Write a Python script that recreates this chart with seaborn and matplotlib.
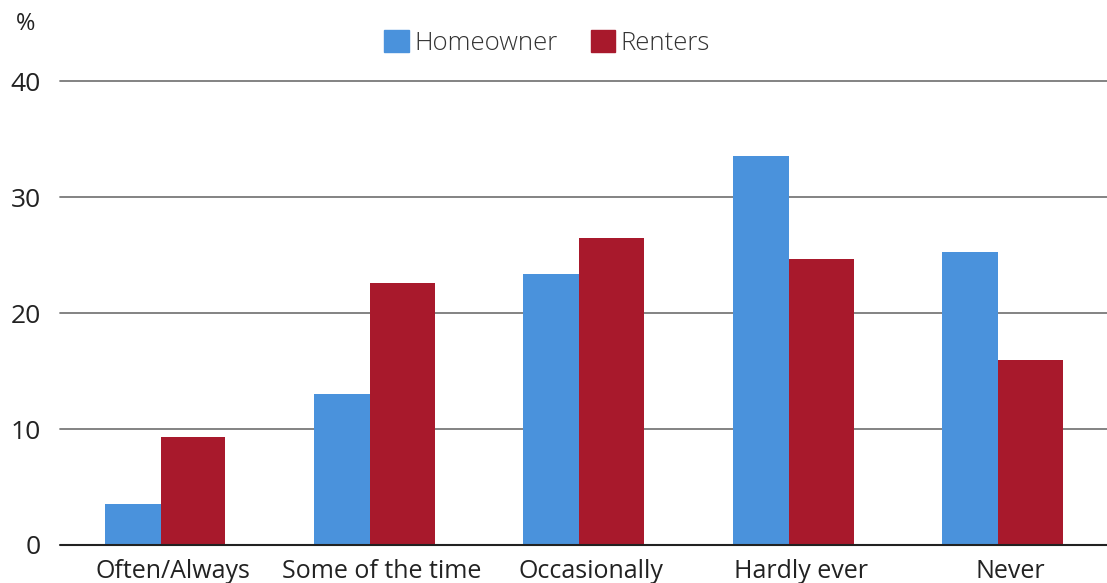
import pandas as pd
import seaborn as sns
import matplotlib.pyplot as plt
import matplotlib.transforms as mtransforms
plt.switch_backend('Agg')

categories = ["Often/Always", "Some of the time", "Occasionally", "Hardly ever", "Never"]
homeowner = [3.5, 13.0, 23.4, 33.6, 25.3]
renters = [9.3, 22.6, 26.5, 24.7, 16.0]
series = ["Homeowner", "Renters"]
colors = {"Homeowner": "#4a92dc", "Renters": "#a8192c"}

df = pd.DataFrame({
    "category": categories * 2,
    "value": homeowner + renters,
    "group": ["Homeowner"] * len(categories) + ["Renters"] * len(categories),
})

sns.set_style("white")
plt.rcParams['font.family'] = ['Open Sans', 'DejaVu Sans']

fig = plt.figure(figsize=(11.07, 5.83), dpi=100)
ax = fig.add_axes([60 / 1107, 38 / 583, 1 - 60 / 1107, (545 - 81.5) / 583])

sns.barplot(data=df, x="category", y="value", hue="group", order=categories,
            hue_order=series, palette=colors, width=0.6, saturation=1,
            legend=False, ax=ax)

# homeowner bar sits left of the category centre, renters bar (a bit wider) right of it
left_w, right_w = 0.267, 0.31
for i, p in enumerate(ax.patches[:2 * len(categories)]):
    cat = i % len(categories)
    if i < len(categories):
        p.set_x(cat - left_w)
        p.set_width(left_w)
    else:
        p.set_x(cat)
        p.set_width(right_w)
    p.set_edgecolor("none")

ax.set_xlim(-0.48, 4.52)
ax.set_ylim(0, 40)
ax.set_yticks([0, 10, 20, 30, 40])
for y in [10, 20, 30, 40]:
    ax.axhline(y, color="#7a7a7a", lw=1.3, zorder=0, clip_on=False)
ax.axhline(0, color="#222222", lw=1.5, zorder=3, clip_on=False)
for s in ax.spines.values():
    s.set_visible(False)

ax.tick_params(axis="y", length=0, pad=14, labelsize=19, labelcolor="#222222")
ax.tick_params(axis="x", length=0, pad=10, labelsize=18, labelcolor="#222222")
ax.set_xlabel("")
ax.set_ylabel("")

# category labels sit a little right of the bar pair centre in the original
shift = mtransforms.ScaledTranslation(12 / 100, 0, fig.dpi_scale_trans)
for lab in ax.get_xticklabels():
    lab.set_transform(lab.get_transform() + shift)

fig.text(26 / 1107, 1 - 24 / 583, "%", fontsize=17, color="#222222", ha="center", va="center")

handles = [plt.Rectangle((0, 0), 1, 1, color=colors[s]) for s in series]
fig.legend(handles, series, loc="center", bbox_to_anchor=(547 / 1107, 1 - 43 / 583),
           ncol=2, frameon=False, labelcolor="#333333",
           prop={"weight": "light", "size": 18.5},
           handlelength=0.95, handleheight=0.95, handletextpad=0.2, columnspacing=1.3)

fig.savefig("out.png", dpi=100)
